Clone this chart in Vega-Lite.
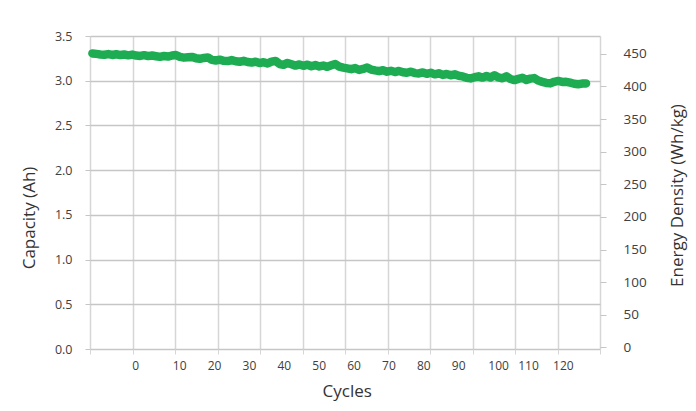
{
  "$schema": "https://vega.github.io/schema/vega-lite/v6.json",
  "width": 510,
  "height": 313,
  "autosize": {"type": "none"},
  "padding": {"left": 90, "top": 36, "right": 96, "bottom": 62},
  "background": "white",
  "config": {
    "view": {"stroke": null},
    "font": "Open Sans",
    "axis": {"labelFont": "Open Sans", "titleFont": "Open Sans", "labelColor": "#404040", "titleColor": "#333333", "titleFontWeight": "normal", "labelFlush": false, "labelOverlap": false}
  },
  "data": {"values": [
    {"cycle": 1, "capacity": 3.305}, {"cycle": 2, "capacity": 3.300}, {"cycle": 3, "capacity": 3.294}, {"cycle": 4, "capacity": 3.290}, {"cycle": 5, "capacity": 3.298},
    {"cycle": 6, "capacity": 3.288}, {"cycle": 7, "capacity": 3.296}, {"cycle": 8, "capacity": 3.287}, {"cycle": 9, "capacity": 3.293}, {"cycle": 10, "capacity": 3.284},
    {"cycle": 11, "capacity": 3.292}, {"cycle": 12, "capacity": 3.281}, {"cycle": 13, "capacity": 3.277}, {"cycle": 14, "capacity": 3.286}, {"cycle": 15, "capacity": 3.275},
    {"cycle": 16, "capacity": 3.282}, {"cycle": 17, "capacity": 3.274}, {"cycle": 18, "capacity": 3.267}, {"cycle": 19, "capacity": 3.277}, {"cycle": 20, "capacity": 3.270},
    {"cycle": 21, "capacity": 3.282}, {"cycle": 22, "capacity": 3.287}, {"cycle": 23, "capacity": 3.266}, {"cycle": 24, "capacity": 3.258}, {"cycle": 25, "capacity": 3.262},
    {"cycle": 26, "capacity": 3.266}, {"cycle": 27, "capacity": 3.252}, {"cycle": 28, "capacity": 3.245}, {"cycle": 29, "capacity": 3.255}, {"cycle": 30, "capacity": 3.260},
    {"cycle": 31, "capacity": 3.233}, {"cycle": 32, "capacity": 3.226}, {"cycle": 33, "capacity": 3.235}, {"cycle": 34, "capacity": 3.223}, {"cycle": 35, "capacity": 3.220},
    {"cycle": 36, "capacity": 3.231}, {"cycle": 37, "capacity": 3.218}, {"cycle": 38, "capacity": 3.212}, {"cycle": 39, "capacity": 3.222}, {"cycle": 40, "capacity": 3.209},
    {"cycle": 41, "capacity": 3.203}, {"cycle": 42, "capacity": 3.213}, {"cycle": 43, "capacity": 3.197}, {"cycle": 44, "capacity": 3.207}, {"cycle": 45, "capacity": 3.192},
    {"cycle": 46, "capacity": 3.214}, {"cycle": 47, "capacity": 3.221}, {"cycle": 48, "capacity": 3.187}, {"cycle": 49, "capacity": 3.178}, {"cycle": 50, "capacity": 3.199},
    {"cycle": 51, "capacity": 3.184}, {"cycle": 52, "capacity": 3.169}, {"cycle": 53, "capacity": 3.182}, {"cycle": 54, "capacity": 3.167}, {"cycle": 55, "capacity": 3.179},
    {"cycle": 56, "capacity": 3.162}, {"cycle": 57, "capacity": 3.175}, {"cycle": 58, "capacity": 3.159}, {"cycle": 59, "capacity": 3.170}, {"cycle": 60, "capacity": 3.155},
    {"cycle": 61, "capacity": 3.172}, {"cycle": 62, "capacity": 3.187}, {"cycle": 63, "capacity": 3.158}, {"cycle": 64, "capacity": 3.146}, {"cycle": 65, "capacity": 3.138},
    {"cycle": 66, "capacity": 3.129}, {"cycle": 67, "capacity": 3.141}, {"cycle": 68, "capacity": 3.121}, {"cycle": 69, "capacity": 3.132}, {"cycle": 70, "capacity": 3.147},
    {"cycle": 71, "capacity": 3.125}, {"cycle": 72, "capacity": 3.115}, {"cycle": 73, "capacity": 3.107}, {"cycle": 74, "capacity": 3.117}, {"cycle": 75, "capacity": 3.101},
    {"cycle": 76, "capacity": 3.111}, {"cycle": 77, "capacity": 3.097}, {"cycle": 78, "capacity": 3.109}, {"cycle": 79, "capacity": 3.095}, {"cycle": 80, "capacity": 3.089},
    {"cycle": 81, "capacity": 3.101}, {"cycle": 82, "capacity": 3.085}, {"cycle": 83, "capacity": 3.081}, {"cycle": 84, "capacity": 3.093}, {"cycle": 85, "capacity": 3.077},
    {"cycle": 86, "capacity": 3.089}, {"cycle": 87, "capacity": 3.071}, {"cycle": 88, "capacity": 3.083}, {"cycle": 89, "capacity": 3.065}, {"cycle": 90, "capacity": 3.075},
    {"cycle": 91, "capacity": 3.061}, {"cycle": 92, "capacity": 3.071}, {"cycle": 93, "capacity": 3.055}, {"cycle": 94, "capacity": 3.048}, {"cycle": 95, "capacity": 3.032},
    {"cycle": 96, "capacity": 3.026}, {"cycle": 97, "capacity": 3.039}, {"cycle": 98, "capacity": 3.049}, {"cycle": 99, "capacity": 3.035}, {"cycle": 100, "capacity": 3.053},
    {"cycle": 101, "capacity": 3.037}, {"cycle": 102, "capacity": 3.061}, {"cycle": 103, "capacity": 3.037}, {"cycle": 104, "capacity": 3.027}, {"cycle": 105, "capacity": 3.049},
    {"cycle": 106, "capacity": 3.019}, {"cycle": 107, "capacity": 3.007}, {"cycle": 108, "capacity": 3.021}, {"cycle": 109, "capacity": 3.033}, {"cycle": 110, "capacity": 3.009},
    {"cycle": 111, "capacity": 3.023}, {"cycle": 112, "capacity": 3.029}, {"cycle": 113, "capacity": 3.002}, {"cycle": 114, "capacity": 2.987}, {"cycle": 115, "capacity": 2.975},
    {"cycle": 116, "capacity": 2.970}, {"cycle": 117, "capacity": 2.988}, {"cycle": 118, "capacity": 2.998}, {"cycle": 119, "capacity": 2.987}, {"cycle": 120, "capacity": 2.988},
    {"cycle": 121, "capacity": 2.978}, {"cycle": 122, "capacity": 2.966}, {"cycle": 123, "capacity": 2.960}, {"cycle": 124, "capacity": 2.968}, {"cycle": 125, "capacity": 2.970}
  ]},
  "layer": [
    {
      "mark": {"type": "line", "color": "#1eac53", "strokeWidth": 8.5, "strokeCap": "round", "strokeJoin": "round"},
      "encoding": {
        "x": {
          "field": "cycle", "type": "quantitative",
          "scale": {"domain": [0.4, 128.5], "nice": false, "zero": false},
          "axis": {"orient": "bottom", "values": [0.4, 11.075, 21.75, 32.425, 43.1, 53.775, 64.45, 75.125, 85.8, 96.475, 107.15, 117.825, 128.5],
                   "labels": false, "title": null, "grid": true, "gridColor": "#d6d6d6", "gridWidth": 1.5,
                   "ticks": true, "tickSize": 5, "tickColor": "#d6d6d6", "domain": false}
        },
        "y": {
          "field": "capacity", "type": "quantitative",
          "scale": {"domain": [0, 3.5], "nice": false, "zero": false},
          "axis": {"orient": "left", "values": [0, 0.5, 1, 1.5, 2, 2.5, 3, 3.5], "format": ".1f",
                   "title": "Capacity (Ah)", "titleFontSize": 17, "titleX": -61, "titleY": 181.5, "titleBaseline": "middle",
                   "grid": true, "gridColor": "#c6c6c6", "gridWidth": 1.5,
                   "tickSize": 5, "tickColor": "#c6c6c6", "labelPadding": 13, "labelFontSize": 12.5, "domain": false}
        }
      }
    },
    {
      "mark": {"type": "point", "opacity": 0},
      "encoding": {
        "x": {
          "field": "cycle", "type": "quantitative",
          "scale": {"domain": [-15.55, 130.65], "nice": false, "zero": false},
          "axis": {"orient": "bottom", "values": [0, 10, 20, 30, 40, 50, 60, 70, 80, 90, 100, 110, 120],
                   "ticks": false, "grid": false, "domain": false, "labelPadding": 11, "labelFontSize": 12,
                   "labelOffset": {"condition": [{"test": "datum.value === 0", "value": -9}, {"test": "datum.value === 100", "value": 5}], "value": 0},
                   "title": "Cycles", "titleFontSize": 17, "titleX": 256.7, "titleY": 42.7, "titleBaseline": "middle"}
        },
        "y": {
          "field": "capacity", "type": "quantitative",
          "scale": {"domain": [-2.3, 477.3], "nice": false, "zero": false},
          "axis": {"orient": "right", "values": [0, 50, 100, 150, 200, 250, 300, 350, 400, 450],
                   "grid": false, "domain": false, "tickSize": 6, "tickColor": "#c6c6c6", "labelPadding": 17, "labelFontSize": 13.5,
                   "title": "Energy Density (Wh/kg)", "titleFontSize": 17, "titleAngle": 270, "titleX": 77, "titleY": 159, "titleBaseline": "middle"}
        }
      }
    }
  ],
  "resolve": {"scale": {"x": "independent", "y": "independent"}}
}
